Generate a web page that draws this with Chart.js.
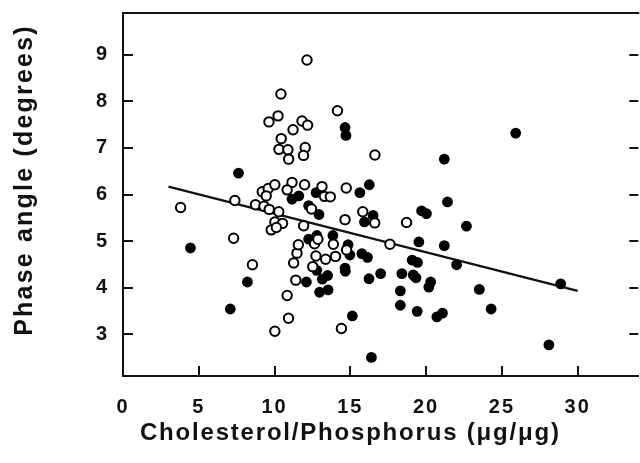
<!DOCTYPE html>
<html>
<head>
<meta charset="utf-8">
<script src="https://cdn.jsdelivr.net/npm/chart.js@4.4.1/dist/chart.umd.min.js"></script>
<style>
  html, body { margin: 0; padding: 0; background: #fff; overflow: hidden; }
  #wrap { width: 640px; height: 463px; overflow: hidden; position: relative; }
  canvas { display: block; }
</style>
</head>
<body>
<div id="wrap"><canvas id="c" width="645" height="463"></canvas></div>
<script>
// ---- data ----
const openX = [12.14,10.42,14.15,9.63,10.23,11.81,12.18,11.22,10.44,10.29,10.88,12.02,11.91,10.93,16.62,3.80,7.38,8.74,9.19,9.58,10.02,9.45,9.30,9.65,10.28,10.02,10.53,9.78,10.12,11.15,11.98,10.83,11.92,13.13,13.29,13.68,12.44,14.73,14.65,15.82,16.61,18.71,17.61,7.30,8.54,10.02,10.92,10.83,11.40,14.41,11.26,11.48,11.57,12.64,12.86,12.73,12.52,13.37,13.88,14.02,14.75];
const openY = [8.89,8.16,7.80,7.56,7.69,7.58,7.49,7.39,7.20,6.97,6.96,7.01,6.84,6.76,6.85,5.72,5.87,5.78,6.06,6.13,6.21,5.97,5.75,5.68,5.63,5.41,5.38,5.24,5.29,6.26,6.21,6.10,5.33,6.17,5.96,5.95,5.69,6.14,5.46,5.63,5.39,5.40,4.93,5.06,4.49,3.06,3.34,3.83,4.16,3.12,4.53,4.74,4.92,4.94,5.04,4.68,4.45,4.61,4.93,4.67,4.81];

const filledX = [7.62,14.65,14.71,11.15,11.60,12.74,12.25,12.93,15.63,16.25,25.91,21.20,15.93,16.50,19.70,20.02,21.41,22.66,19.52,21.20,15.76,16.13,19.08,19.43,22.01,28.88,16.23,17.00,18.40,19.15,19.33,20.30,20.18,23.51,18.30,18.30,19.41,20.71,21.08,24.29,28.10,16.39,4.45,8.21,7.08,12.10,12.97,13.53,12.79,13.15,13.50,12.25,12.79,13.85,14.85,14.97,14.65,14.67,15.13];
const filledY = [6.46,7.44,7.27,5.90,5.97,6.04,5.76,5.57,6.04,6.21,7.32,6.76,5.41,5.55,5.65,5.59,5.84,5.32,4.98,4.90,4.73,4.65,4.59,4.54,4.49,4.08,4.19,4.30,4.30,4.27,4.21,4.12,4.01,3.96,3.93,3.62,3.49,3.37,3.45,3.54,2.77,2.50,4.85,4.12,3.54,4.12,3.90,3.95,4.37,4.18,4.26,5.04,5.12,5.12,4.92,4.70,4.42,4.35,3.39];

const fitX = [3, 30];
const fitY = [6.17, 3.93];

const xTicks = [0, 5, 10, 15, 20, 25, 30];
const yTicks = [3, 4, 5, 6, 7, 8, 9];

const xTitle = 'Cholesterol/Phosphorus (μg/μg)';
const yTitle = 'Phase angle (degrees)';

// ---- build ----
const zip = (xs, ys) => xs.map((x, i) => ({ x: x, y: ys[i] }));
const FONT = '"Liberation Sans", Arial, Helvetica, sans-serif';
const INK = '#111';

const spacingPlugin = {
  id: 'spacing',
  beforeInit(chart) { chart.ctx.letterSpacing = '2px'; },
  beforeDraw(chart) { chart.ctx.letterSpacing = '2px'; }
};

const framePlugin = {
  id: 'frame',
  afterDatasetsDraw(chart) {
    const { ctx, chartArea: a, scales } = chart;
    ctx.save();
    ctx.strokeStyle = INK;
    ctx.lineWidth = 2;
    // top frame line
    ctx.beginPath();
    ctx.moveTo(a.left - 1, a.top);
    ctx.lineTo(a.right + 1, a.top);
    ctx.stroke();
    // inward ticks on the x axis
    xTicks.forEach(v => {
      if (v === 0) return;
      const px = Math.round(scales.x.getPixelForValue(v));
      ctx.beginPath();
      ctx.moveTo(px, a.bottom);
      ctx.lineTo(px, a.bottom - 10);
      ctx.stroke();
    });
    // inward ticks on the left and right of the y axis
    yTicks.forEach(v => {
      const py = Math.round(scales.y.getPixelForValue(v));
      ctx.beginPath();
      ctx.moveTo(a.left, py);
      ctx.lineTo(a.left + 10, py);
      ctx.stroke();
      ctx.beginPath();
      ctx.moveTo(a.right, py);
      ctx.lineTo(a.right - 9, py);
      ctx.stroke();
    });
    // axis titles
    ctx.fillStyle = INK;
    ctx.textAlign = 'center';
    ctx.textBaseline = 'middle';
    ctx.letterSpacing = '1.8px';
    ctx.font = 'bold 24px ' + FONT;
    const xc = (scales.x.getPixelForValue(xTicks[0]) + scales.x.getPixelForValue(xTicks[xTicks.length - 1])) / 2;
    ctx.fillText(xTitle, xc, 433);
    ctx.save();
    ctx.translate(25, 180);
    ctx.rotate(-Math.PI / 2);
    ctx.letterSpacing = '2.2px';
    ctx.font = 'bold 25px ' + FONT;
    ctx.fillText(yTitle, 0, 0);
    ctx.restore();
    ctx.restore();
  }
};

new Chart(document.getElementById('c'), {
  type: 'scatter',
  data: {
    datasets: [
      {
        label: 'fit',
        type: 'line',
        data: zip(fitX, fitY),
        showLine: true,
        borderColor: INK,
        borderWidth: 2.2,
        pointRadius: 0,
        fill: false,
        order: 3
      },
      {
        label: 'filled',
        data: zip(filledX, filledY),
        pointRadius: 5.4,
        pointBackgroundColor: '#000',
        pointBorderColor: '#000',
        pointBorderWidth: 0,
        order: 2
      },
      {
        label: 'open',
        data: zip(openX, openY),
        pointRadius: 4.7,
        pointBackgroundColor: '#fff',
        pointBorderColor: '#000',
        pointBorderWidth: 2,
        order: 1
      }
    ]
  },
  options: {
    responsive: false,
    animation: false,
    devicePixelRatio: 1,
    layout: { padding: { top: 13, right: 3, left: 0, bottom: 0 } },
    plugins: { legend: { display: false }, tooltip: { enabled: false } },
    scales: {
      x: {
        type: 'linear',
        min: 0,
        max: 34,
        afterBuildTicks: s => { s.ticks = xTicks.map(v => ({ value: v })); },
        afterFit: s => { s.height = 87; s.paddingLeft = 0; s.paddingRight = 0; },
        grid: { display: false, drawTicks: false },
        border: { display: true, color: INK, width: 2 },
        ticks: { color: INK, padding: 19, font: { family: FONT, size: 20, weight: 'bold' }, maxRotation: 0 }
      },
      y: {
        type: 'linear',
        min: 2.1,
        max: 9.9,
        afterBuildTicks: s => { s.ticks = yTicks.map(v => ({ value: v })); },
        afterFit: s => { s.width = 123; s.paddingTop = 0; s.paddingBottom = 0; },
        grid: { display: false, drawTicks: false },
        border: { display: true, color: INK, width: 2 },
        ticks: { color: INK, padding: 14, font: { family: FONT, size: 20, weight: 'bold' } }
      }
    }
  },
  plugins: [spacingPlugin, framePlugin]
});
</script>
</body>
</html>
